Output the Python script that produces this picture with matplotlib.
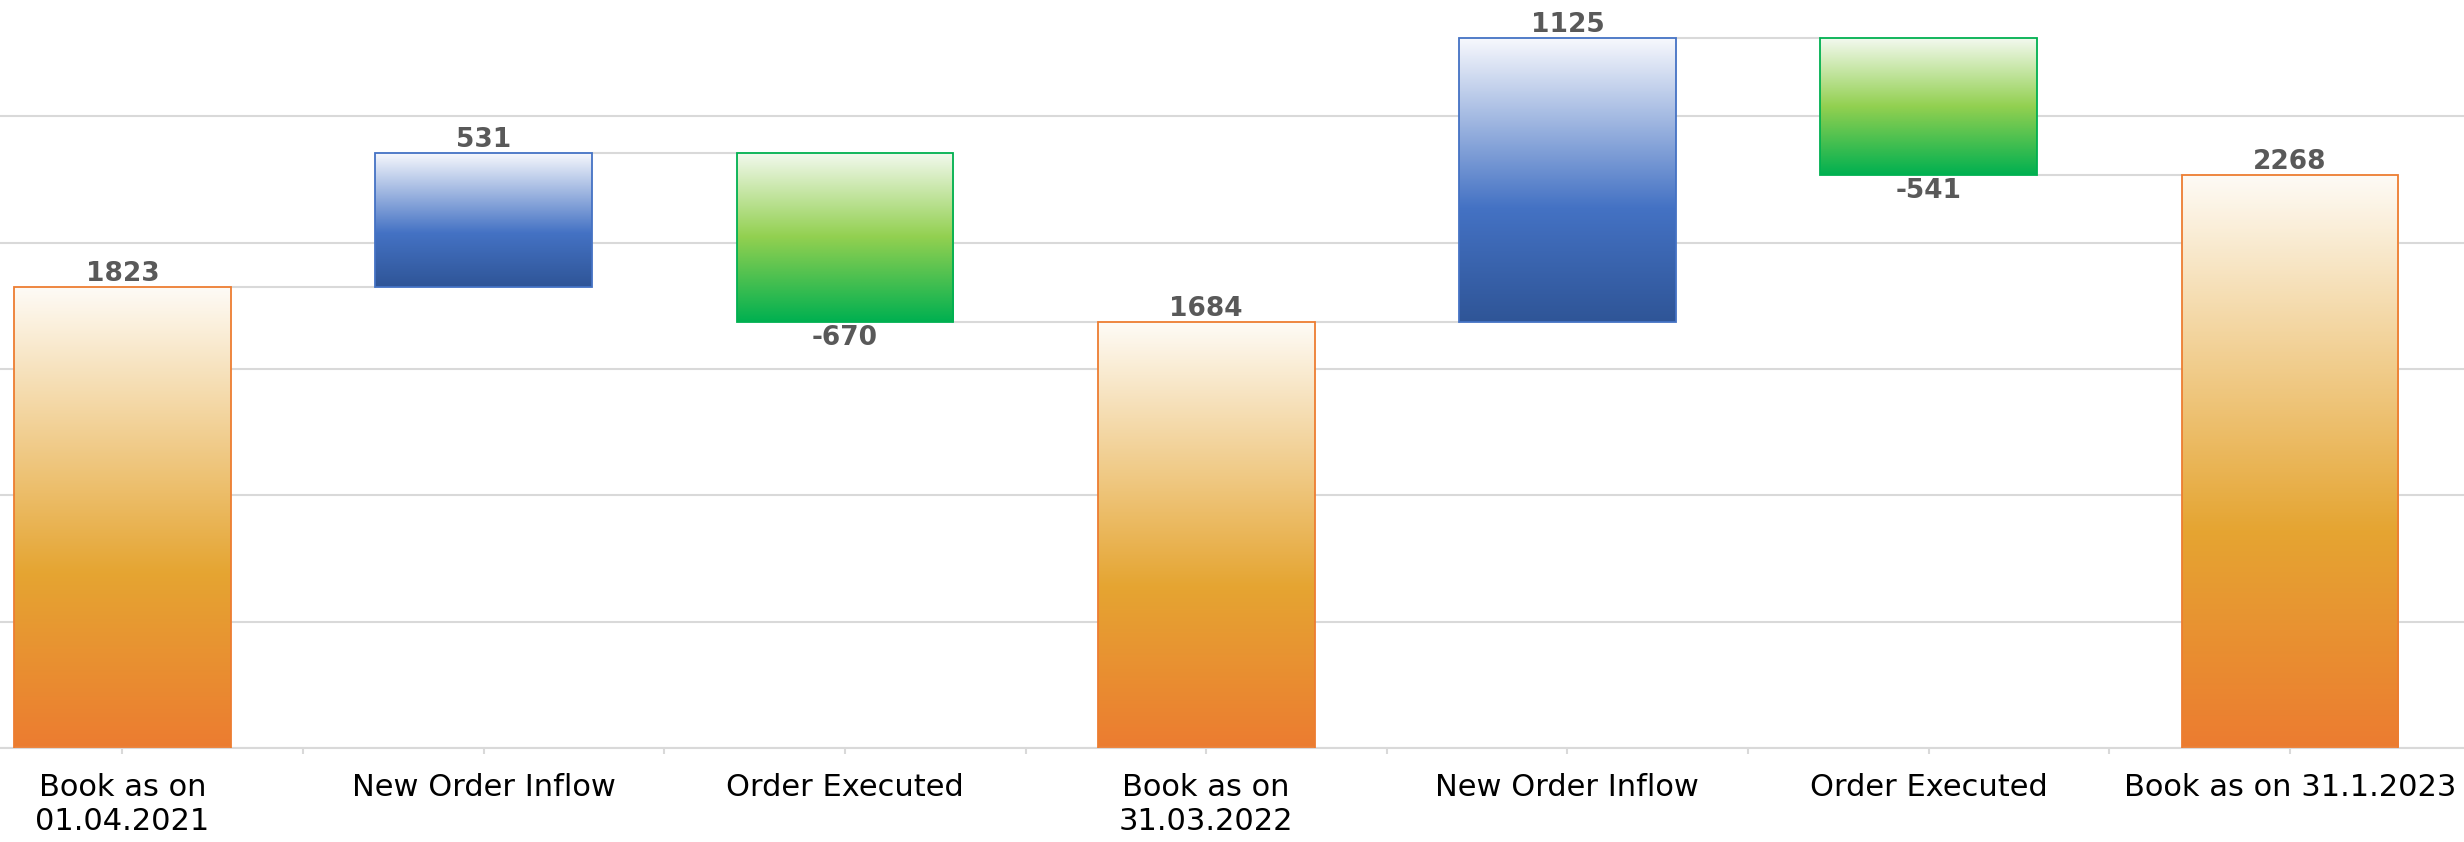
import numpy as np
import matplotlib
matplotlib.use('Agg')
import matplotlib.pyplot as plt
from matplotlib.colors import LinearSegmentedColormap

# données du graphique (waterfall)
categories = ['Book as on\n01.04.2021', 'New Order Inflow', 'Order Executed',
              'Book as on\n31.03.2022', 'New Order Inflow', 'Order Executed',
              'Book as on 31.1.2023']
values = [1823, 531, -670, 1684, 1125, -541, 2268]
kinds = ['total', 'inc', 'dec', 'total', 'inc', 'dec', 'total']

# dégradés (haut -> bas) et couleur du contour
styles = {
    'total': ([(0.0, '#fefbf6'), (0.62, '#e5a532'), (1.0, '#ec7c30')], '#ed7d31'),
    'inc': ([(0.0, '#f8f9fd'), (0.6, '#4472c4'), (1.0, '#2f5597')], '#4472c4'),
    'dec': ([(0.0, '#f3f9ef'), (0.5, '#92d050'), (1.0, '#00b050')], '#00b050'),
}

grid_col = '#d9d9d9'
bar_w = 0.6

fig = plt.figure(figsize=(24.64, 8.42), dpi=100)
ax = fig.add_axes([0, 0.1116, 1, 0.8884])

# calcul des bases
bottoms, heights, levels = [], [], []
running = 0
for v, k in zip(values, kinds):
    if k == 'total':
        bottoms.append(0)
        heights.append(v)
        running = v
    elif k == 'inc':
        bottoms.append(running)
        heights.append(v)
        running += v
    else:
        bottoms.append(running + v)
        heights.append(-v)
        running += v
    levels.append(running)

x = np.arange(len(categories))
grad = np.linspace(0, 1, 256).reshape(-1, 1)

for i, (b, h, k, v) in enumerate(zip(bottoms, heights, kinds, values)):
    stops, edge = styles[k]
    cmap = LinearSegmentedColormap.from_list(k, stops)
    ax.imshow(grad, cmap=cmap, extent=(i - bar_w / 2, i + bar_w / 2, b, b + h),
              origin='upper', aspect='auto', zorder=2, interpolation='bilinear')
    ax.bar(i, h, bottom=b, width=bar_w, fill=False, edgecolor=edge,
           linewidth=1.3, zorder=3)
    # étiquettes de valeur
    if k == 'dec':
        ax.annotate(str(v), (i, b), xytext=(0, -2), textcoords='offset points',
                    ha='center', va='top', fontsize=19, fontweight='bold', color='#595959')
    else:
        ax.annotate(str(v), (i, b + h), xytext=(0, 0), textcoords='offset points',
                    ha='center', va='bottom', fontsize=19, fontweight='bold', color='#595959')

# lignes de liaison
for i in range(len(categories) - 1):
    ax.plot([i + bar_w / 2, i + 1 - bar_w / 2], [levels[i], levels[i]],
            color=grid_col, linewidth=1.5, zorder=1)

ax.set_yticks(np.arange(0, 3000, 500))
ax.yaxis.grid(True, color=grid_col, linewidth=1.5, zorder=0)
ax.set_axisbelow(True)
ax.tick_params(axis='y', length=0, labelleft=False)

ax.set_xticks(x)
ax.set_xticklabels(categories, fontsize=22, color='black', linespacing=1.2)
ax.set_xticks(np.arange(0.5, 6, 1), minor=True)
ax.tick_params(axis='x', which='both', length=4, color=grid_col, width=1.5)
ax.tick_params(axis='x', which='major', pad=14)

ax.set_xlim(-0.339, 6.482)
ax.set_ylim(0, 2960)

for s in ['top', 'left', 'right']:
    ax.spines[s].set_visible(False)
ax.spines['bottom'].set_color(grid_col)
ax.spines['bottom'].set_linewidth(1.5)

fig.savefig('out.png', dpi=100)
